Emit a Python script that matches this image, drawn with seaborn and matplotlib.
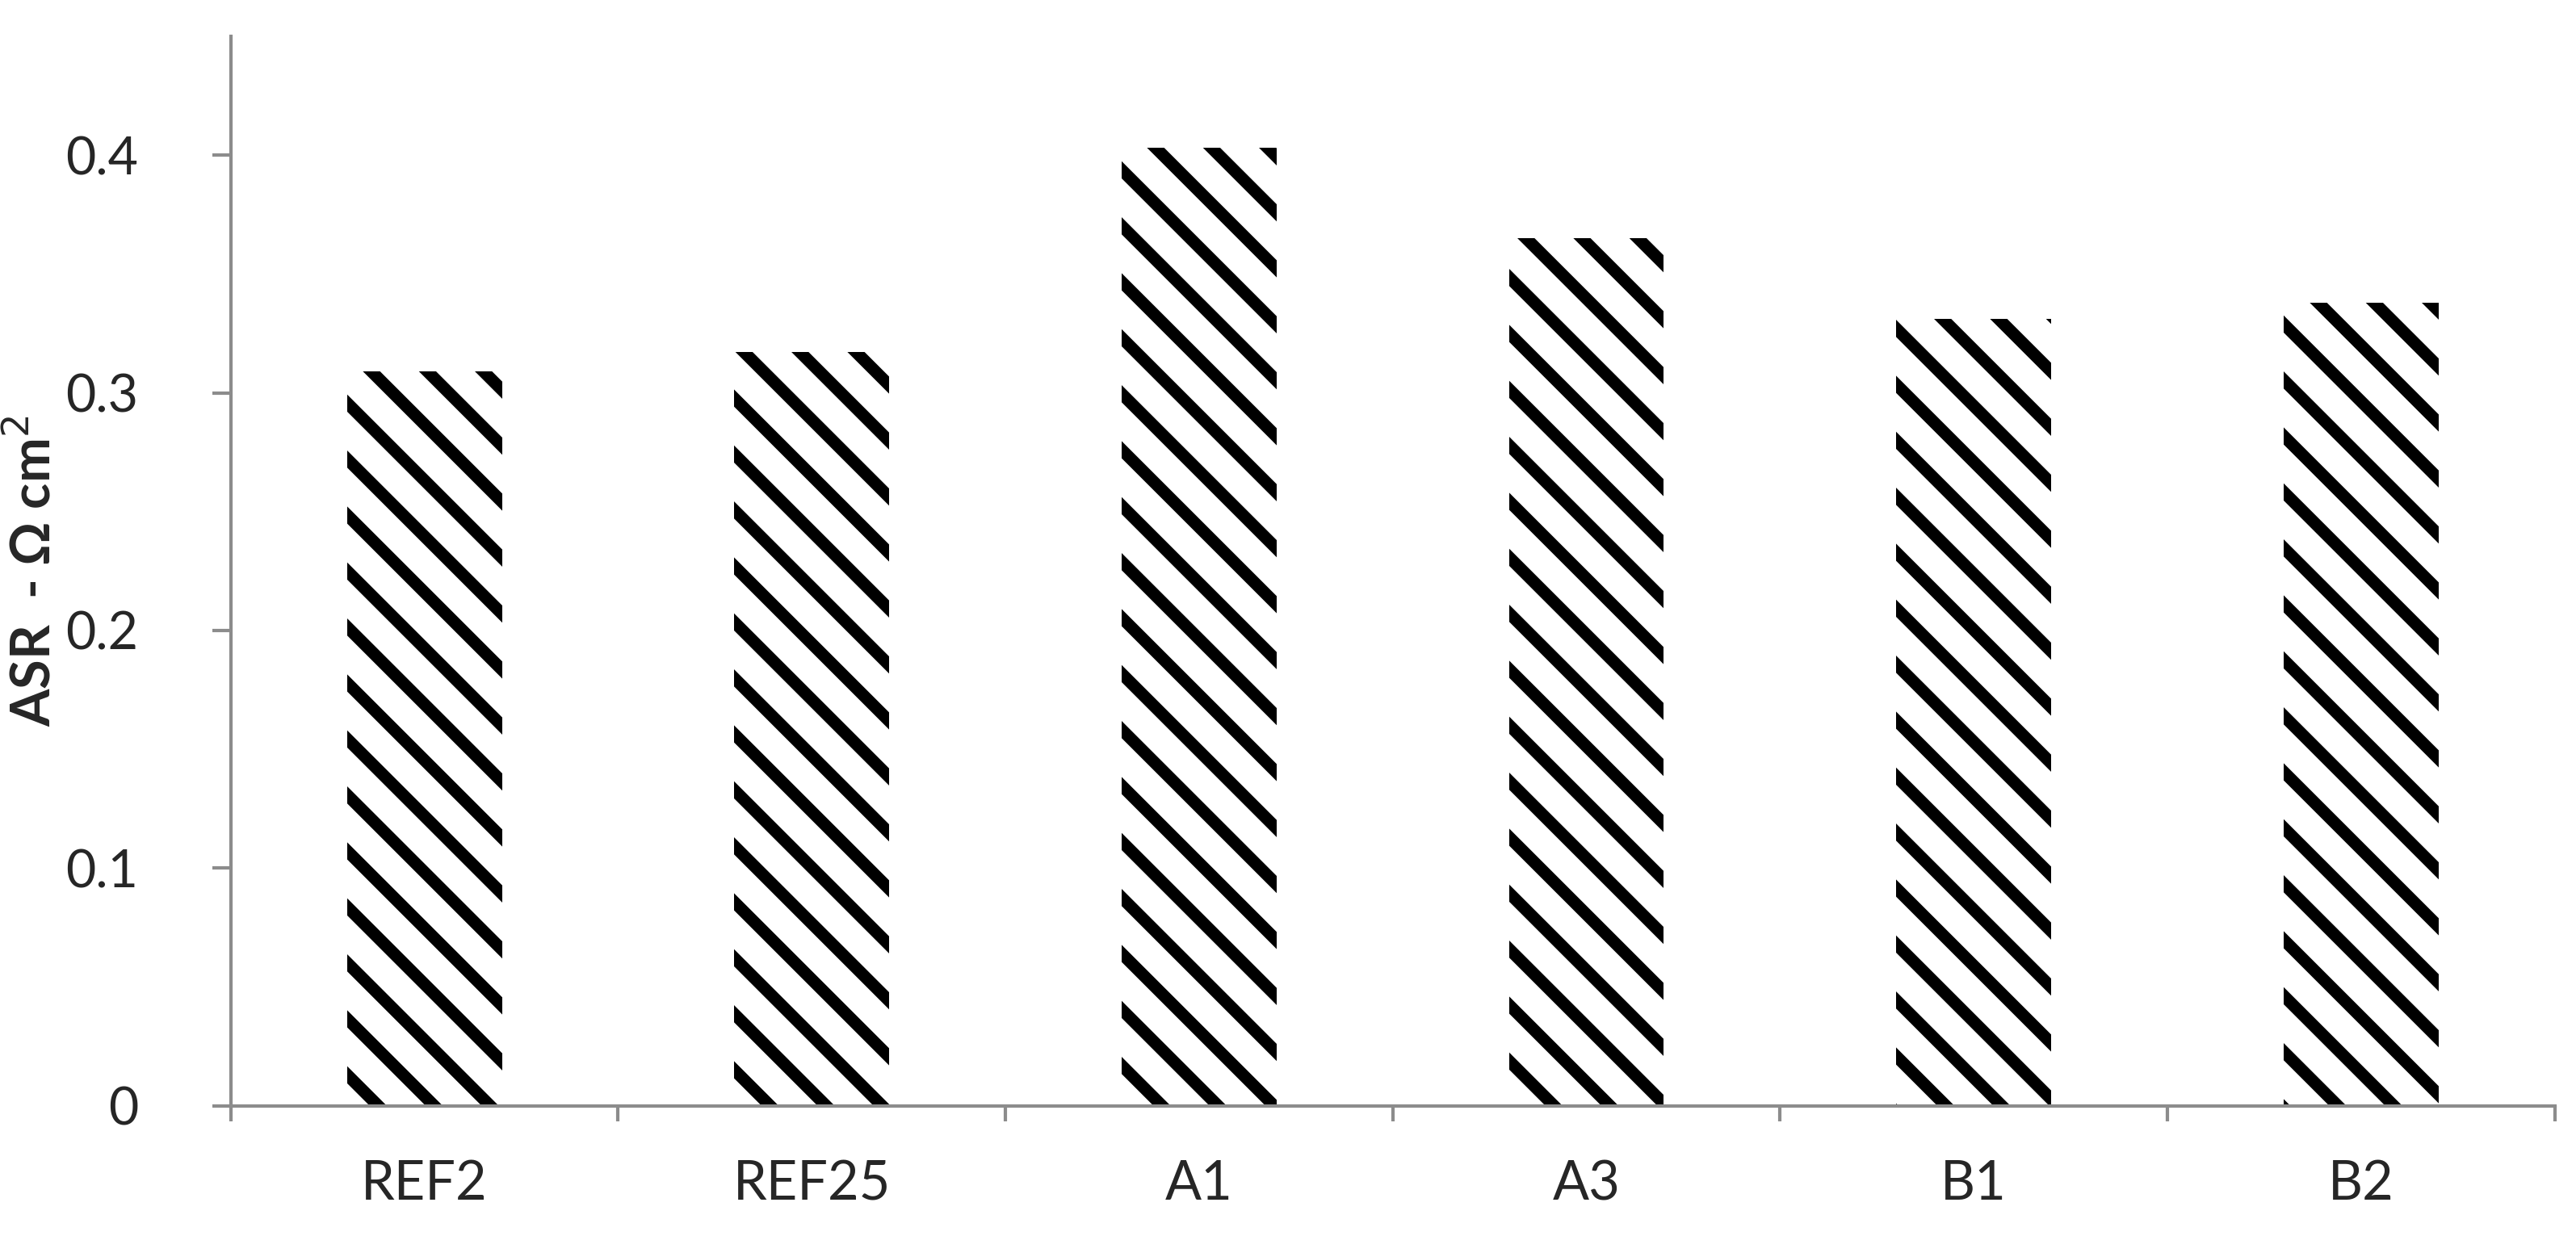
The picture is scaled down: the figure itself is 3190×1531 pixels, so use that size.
import matplotlib
matplotlib.use("Agg")
import matplotlib.pyplot as plt
import numpy as np
import pandas as pd
import seaborn as sns

# values
samples = ["REF2", "REF25", "A1", "A3", "B1", "B2"]
asr = [0.309, 0.317, 0.403, 0.365, 0.331, 0.338]
y_ticks = [0, 0.1, 0.2, 0.3, 0.4]
y_tick_labels = ["0", "0.1", "0.2", "0.3", "0.4"]

df = pd.DataFrame({"sample": samples, "asr": asr})

# dpi picked so the hatch spacing matches the reference
dpi = 208
k = 300 / dpi

sns.set_style("white")
plt.rcParams["font.family"] = ["Lato", "DejaVu Sans"]
plt.rcParams["hatch.linewidth"] = 5.2
plt.rcParams["hatch.color"] = "black"

fig = plt.figure(figsize=(3190 / dpi, 1531 / dpi), dpi=dpi)
ax = fig.add_axes([0.0896, 0.1053, 0.9021, 0.8654])

sns.barplot(data=df, x="sample", y="asr", color="white", width=0.4,
            edgecolor="black", linewidth=0, hatch="\\", ax=ax)
for p in ax.patches:
    p.set_hatch("\\")
    p.set_edgecolor("black")
    p.set_linewidth(0)

grey = "#8c8c8c"
ax.set_xlim(-0.5, len(samples) - 0.5)
ax.set_ylim(0, 0.45)
ax.set_yticks(y_ticks)
ax.set_yticklabels(y_tick_labels)
ax.set_xticks(np.arange(len(samples)))
ax.set_xticklabels(samples)
ax.set_xticks(np.arange(len(samples) + 1) - 0.5, minor=True)

for s in ["top", "right"]:
    ax.spines[s].set_visible(False)
for s in ["left", "bottom"]:
    ax.spines[s].set_color(grey)
    ax.spines[s].set_linewidth(1.0 * k)

ax.tick_params(axis="x", which="major", length=0, pad=16 * k, labelsize=16 * k)
ax.tick_params(axis="x", which="minor", length=4.5 * k, width=1.0 * k, color=grey,
               direction="out", bottom=True)
ax.tick_params(axis="y", length=5.5 * k, width=1.0 * k, color=grey, direction="out",
               left=True, pad=22 * k, labelsize=15.5 * k)

ax.set_xlabel("")
ax.set_ylabel("ASR  - Ω cm$^2$", fontsize=16 * k, fontweight="bold")
ax.yaxis.set_label_coords(-0.0735, 0.5)

fig.savefig("out.png", dpi=dpi)
